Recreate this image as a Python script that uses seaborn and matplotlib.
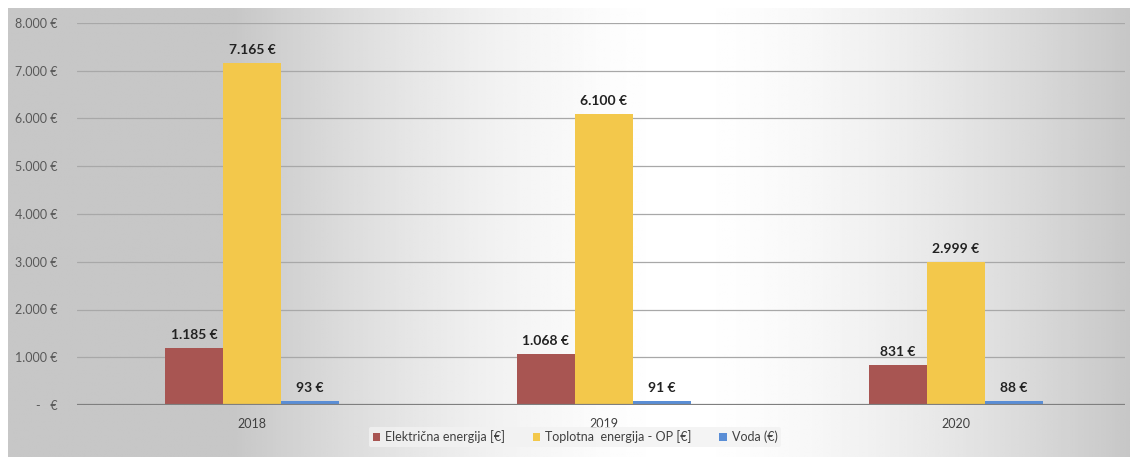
import numpy as np
import pandas as pd
import matplotlib
matplotlib.use("Agg")
import matplotlib.pyplot as plt
import seaborn as sns

# data
years = ["2018", "2019", "2020"]
elektricna = [1185, 1068, 831]
toplotna = [7165, 6100, 2999]
voda = [93, 91, 88]
series_names = ["Električna energija [€]", "Toplotna  energija - OP [€]", "Voda (€)"]
y_ticks = [0, 1000, 2000, 3000, 4000, 5000, 6000, 7000, 8000]

colors = ["#a85552", "#f3c84b", "#5a8ed6"]


def eur(v):
    if v == 0:
        return "-   €"
    return f"{v:,.0f} €".replace(",", ".")


def main():
    rows = []
    for name, vals in zip(series_names, [elektricna, toplotna, voda]):
        for yr, v in zip(years, vals):
            rows.append({"Godina": yr, "Iznos": v, "Serija": name})
    df = pd.DataFrame(rows)

    sns.set_theme(style="white")
    plt.rcParams["font.family"] = ["Lato", "DejaVu Sans"]

    fig = plt.figure(figsize=(11.30, 4.57), dpi=100)
    fig.patch.set_facecolor("white")

    # gradient background of the chart area
    bg = fig.add_axes([8 / 1130, 0, 1 - 8 / 1130, (457 - 8) / 457])
    xs = np.linspace(0, 1, 400)
    shade = 1 - 0.22 * np.clip(np.abs(xs - 0.6) / 0.4, 0, 1) ** 1.6
    img = np.tile(shade, (50, 1))
    bg.imshow(img, cmap="gray", vmin=0, vmax=1, aspect="auto", extent=[0, 1, 0, 1])
    bg.set_axis_off()

    ax = fig.add_axes([77 / 1130, (457 - 405) / 457, 1048 / 1130, (405 - 23) / 457])
    ax.patch.set_alpha(0)

    sns.barplot(data=df, x="Godina", y="Iznos", hue="Serija", palette=colors,
                width=0.495, gap=0, saturation=1, linewidth=0, ax=ax, legend=True)

    ax.set_ylim(0, 8000)
    ax.set_xlim(-0.497, 2.48)
    ax.set_yticks(y_ticks)
    ax.set_yticklabels([eur(v) for v in y_ticks], fontsize=9, color="#595959")
    ax.yaxis.grid(True, color="#a8a8a8", linewidth=0.9)
    ax.set_axisbelow(True)
    ax.axhline(0, color="#7f7f7f", linewidth=1.6, zorder=3)
    for s in ax.spines.values():
        s.set_visible(False)
    ax.tick_params(axis="both", length=0)
    ax.tick_params(axis="y", pad=14)
    ax.tick_params(axis="x", pad=9, labelsize=9, labelcolor="#404040")
    ax.set_xlabel("")
    ax.set_ylabel("")

    for cont in ax.containers:
        ax.bar_label(cont, labels=[eur(v) for v in cont.datavalues], padding=5,
                     fontsize=10, fontweight="bold", color="#222222")

    handles, labels = ax.get_legend_handles_labels()
    ax.legend(handles, labels, loc="center", bbox_to_anchor=(575 / 1130, 20 / 457),
              bbox_transform=fig.transFigure, ncol=3, frameon=True, fontsize=9,
              handlelength=0.6, handleheight=0.6, handletextpad=0.4,
              columnspacing=2.2, borderpad=0.3, labelcolor="#404040",
              facecolor="#f2f2f2", edgecolor="none", framealpha=0.8)

    fig.savefig("out.png", dpi=100)


if __name__ == "__main__":
    main()
